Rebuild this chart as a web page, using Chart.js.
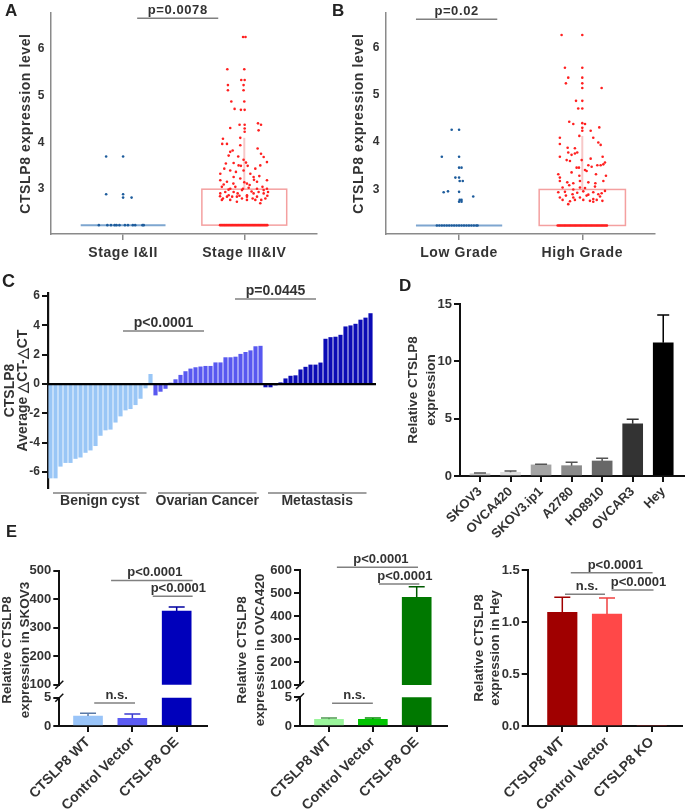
<!DOCTYPE html>
<html><head><meta charset="utf-8">
<script src="https://cdn.jsdelivr.net/npm/chart.js@4/dist/chart.umd.min.js"></script>
<style>
body{margin:0;background:#fff;}
#wrap{position:relative;width:685px;height:811px;overflow:hidden;background:#fff;}
canvas{position:absolute;}
.lbl{position:absolute;font-family:'Liberation Sans',Arial,sans-serif;font-weight:bold;color:#222;line-height:1;}
</style></head><body>
<div id="wrap">
<canvas id="cA" width="340" height="270" style="left:0;top:0"></canvas>
<canvas id="cB" width="345" height="270" style="left:340px;top:0"></canvas>
<canvas id="cC" width="385" height="240" style="left:0;top:270px"></canvas>
<canvas id="cD" width="300" height="280" style="left:385px;top:270px"></canvas>
<canvas id="cE1t" width="230" height="281" style="left:0;top:530px"></canvas>
<canvas id="cE1b" width="230" height="281" style="left:0;top:530px"></canvas>
<canvas id="cE2t" width="230" height="281" style="left:230px;top:530px"></canvas>
<canvas id="cE2b" width="230" height="281" style="left:230px;top:530px"></canvas>
<canvas id="cE3" width="225" height="281" style="left:460px;top:530px"></canvas>
<div class="lbl" style="left:5px;top:2px;font-size:17px">A</div>
<div class="lbl" style="left:332px;top:2px;font-size:17px">B</div>
<div class="lbl" style="left:2px;top:272px;font-size:18px">C</div>
<div class="lbl" style="left:399px;top:277px;font-size:17px">D</div>
<div class="lbl" style="left:6px;top:523px;font-size:16.5px">E</div>
</div>
<script>
// ---------------- DATA ----------------
// Panel A: CTSLP8 expression by stage ([x jitter in category units, value])
const stageCats = ['Stage I&II', 'Stage III&IV'];
const stageEarly = [[-0.14,3.70],[0,3.70],[-0.14,2.89],[0,2.89],[0,2.82],[0.07,2.82],
  [-0.20,2.23],[-0.13,2.23],[-0.10,2.23],[-0.07,2.23],[-0.055,2.23],[-0.03,2.23],[0.015,2.23],[0.04,2.23],[0.08,2.23],[0.10,2.23],[0.16,2.23],[0.17,2.23]];
const stageLate = [[-0.01,6.26],[0.01,6.26],[-0.14,5.57],[0,5.57],[-0.135,5.23],[-0.135,5.12],[-0.006,5.23],[-0.006,5.12],
  [-0.025,5.34],[0.003,5.34],[-0.107,4.88],[0,4.88],[-0.08,4.72],[-0.028,4.70],[0.003,4.70],
  [-0.116,4.31],[-0.039,4.38],[0.003,4.38],[0.003,4.30],[0.003,4.23],[0.113,4.41],[0.138,4.38],[0.118,4.26],
  [-0.176,4.08],[-0.033,4.10],[-0.182,3.97],[-0.143,3.97],[-0.033,3.94],[-0.116,3.80],
  [0.11,3.87],[0.138,3.76],[0.16,3.69],[0.187,3.58],
  [-0.129,3.72],[-0.096,3.83],[-0.05,3.70],[-0.006,3.63],[0.014,3.57],
  [-0.152,3.55],[-0.088,3.56],[-0.047,3.51],[-0.028,3.50],[0.028,3.50],[0.091,3.44],[0.132,3.51],
  [-0.198,3.33],[-0.165,3.44],[-0.116,3.40],[-0.069,3.37],[-0.006,3.40],[0.05,3.33],[0.077,3.26],[0.124,3.28],[0.187,3.19],
  [-0.198,3.19],[-0.143,3.16],[-0.088,3.26],[-0.033,3.23],[0.022,3.12],[0.044,3.09],[0.105,3.16],
  [-0.185,3.05],[-0.116,3.01],[-0.074,3.05],[-0.011,3.01],[0.036,3.03],[0.105,3.01],[0.16,2.98],[0.187,3.01],
  [-0.198,2.91],[-0.157,2.94],[-0.129,2.87],[-0.088,2.94],[-0.055,2.91],[-0.019,2.98],[0.022,2.87],[0.077,2.91],[0.118,2.94],[0.16,2.91],[0.196,2.94],
  [-0.176,2.80],[-0.143,2.84],[-0.10,2.84],[-0.061,2.84],[-0.019,2.80],[0.022,2.84],[0.069,2.80],[0.105,2.84],[0.14,2.77],[0.174,2.80],
  [-0.185,2.77],[-0.116,2.77],[-0.061,2.73],[0.022,2.77],[0.091,2.77],[0.132,2.70],
  [-0.17,3.10],[0.06,2.95],[-0.04,2.86],[0.15,3.05],[-0.13,2.99],[0.08,3.20],[-0.09,3.12],[0.0,3.15],[0.19,2.86],[-0.20,2.85],
  [-0.20,2.23],[-0.18,2.23],[-0.16,2.23],[-0.14,2.23],[-0.12,2.23],[-0.10,2.23],[-0.08,2.23],[-0.06,2.23],[-0.04,2.23],[-0.02,2.23],
  [0,2.23],[0.02,2.23],[0.04,2.23],[0.06,2.23],[0.08,2.23],[0.10,2.23],[0.12,2.23],[0.14,2.23],[0.16,2.23],[0.18,2.23],
  [-0.19,2.23],[-0.17,2.23],[-0.15,2.23],[-0.13,2.23],[-0.11,2.23],[-0.09,2.23],[-0.07,2.23],[-0.05,2.23],[-0.03,2.23],[-0.01,2.23],
  [0.01,2.23],[0.03,2.23],[0.05,2.23],[0.07,2.23],[0.09,2.23],[0.11,2.23],[0.13,2.23],[0.15,2.23],[0.17,2.23],[0.19,2.23]];
const stageQ1 = [2.23, 2.23];
const stageQ3 = [2.23, 3.00];
const stageWhiskerHi = [2.23, 4.10];

// Panel B: by grade
const gradeCats = ['Low Grade', 'High Grade'];
const gradeLow = [[-0.14,3.69],[0,3.69],[-0.06,4.26],[0,4.26],[0,3.46],[0.02,3.46],[-0.03,3.25],[0,3.25],[0.005,3.18],[0.03,3.18],
  [-0.125,2.94],[-0.09,2.96],[0,2.95],[0.115,2.85],[0.005,2.78],[0.02,2.78],[0,2.74],[0.02,2.74],
  [-0.18,2.24],[-0.16,2.24],[-0.14,2.24],[-0.12,2.24],[-0.10,2.24],[-0.08,2.24],[-0.06,2.24],[-0.04,2.24],[-0.02,2.24],
  [0,2.24],[0.02,2.24],[0.04,2.24],[0.06,2.24],[0.08,2.24],[0.10,2.24],[0.12,2.24],[0.14,2.24],[0.15,2.24]];
const gradeHigh = [[-0.168,6.26],[0,6.26],[-0.141,5.57],[0,5.57],[-0.114,5.36],[-0.133,5.24],[0,5.36],[0,5.24],[0,5.14],[0.157,5.14],
  [-0.051,4.87],[0,4.87],[-0.033,4.71],[0,4.71],[-0.106,4.43],[-0.073,4.38],[0,4.40],[0.022,4.38],[0,4.30],[0,4.24],[0.068,4.24],[0.138,4.31],
  [-0.024,4.13],[-0.182,4.09],[0.089,4.09],[-0.182,3.96],[0.13,3.99],[0.149,3.94],[-0.119,3.88],[-0.06,3.87],
  [-0.114,3.78],[-0.087,3.73],[-0.06,3.76],[-0.041,3.78],[-0.182,3.69],[0.165,3.69],[-0.127,3.62],[-0.10,3.60],[0.068,3.65],
  [0.184,3.57],[0.171,3.53],[0.122,3.51],[0.149,3.51],[-0.046,3.46],[-0.027,3.46],[0.022,3.41],[0.049,3.51],[0.076,3.48],[-0.005,3.62],
  [-0.195,3.32],[-0.182,3.25],[-0.087,3.36],[-0.024,3.29],[0.035,3.39],[0.111,3.32],[0.192,3.29],
  [-0.182,3.18],[-0.122,3.15],[-0.073,3.13],[-0.019,3.18],[0.049,3.15],[0.106,3.13],[0.171,3.18],
  [-0.16,3.04],[-0.106,3.09],[-0.073,3.00],[-0.019,3.04],[0.022,3.03],[0.103,3.06],[0.184,2.97],
  [-0.195,2.94],[-0.141,2.95],[-0.079,2.90],[-0.041,2.93],[0.008,2.96],[0.049,2.89],[0.089,2.94],[0.13,2.90],[0.157,2.92],
  [-0.182,2.83],[-0.133,2.87],[-0.073,2.83],[-0.019,2.83],[0.035,2.87],[0.089,2.80],[0.144,2.85],
  [-0.16,2.78],[-0.10,2.75],[-0.06,2.78],[0.008,2.78],[0.062,2.76],[0.117,2.78],[0.163,2.76],[-0.114,2.69],[0.089,2.74],
  [-0.20,2.24],[-0.18,2.24],[-0.16,2.24],[-0.14,2.24],[-0.12,2.24],[-0.10,2.24],[-0.08,2.24],[-0.06,2.24],[-0.04,2.24],[-0.02,2.24],
  [0,2.24],[0.02,2.24],[0.04,2.24],[0.06,2.24],[0.08,2.24],[0.10,2.24],[0.12,2.24],[0.14,2.24],[0.16,2.24],[0.18,2.24],[0.20,2.24],
  [-0.19,2.24],[-0.17,2.24],[-0.15,2.24],[-0.13,2.24],[-0.11,2.24],[-0.09,2.24],[-0.07,2.24],[-0.05,2.24],[-0.03,2.24],[-0.01,2.24],
  [0.01,2.24],[0.03,2.24],[0.05,2.24],[0.07,2.24],[0.09,2.24],[0.11,2.24],[0.13,2.24],[0.15,2.24],[0.17,2.24],[0.19,2.24]];
const gradeQ1 = [2.24, 2.24];
const gradeQ3 = [2.24, 3.00];
const gradeWhiskerHi = [2.24, 4.13];

// Panel C: Average dCT-dCT per sample
const benignCyst = [-6.4,-6.4,-5.6,-5.35,-5.35,-5.07,-4.98,-4.66,-4.5,-4.2,-3.5,-3.13,-3.08,-2.6,-2.18,-1.77,-1.68,-1.41,-0.98,-0.27,0.66];
const ovarianCancer = [-0.75,-0.5,-0.3,0.05,0.3,0.6,0.85,1.03,1.12,1.17,1.21,1.21,1.45,1.45,1.8,1.8,1.84,2.03,2.16,2.27,2.55,2.58];
const metastasis = [-0.2,-0.2,-0.06,0.09,0.36,0.54,0.57,0.97,1.15,1.3,1.3,1.44,3.06,3.17,3.2,3.33,3.9,3.97,4.08,4.36,4.5,4.8];
const cGroups = ['Benign cyst', 'Ovarian Cancer', 'Metastasis'];

// Panel D: cell lines
const cellLines = ['SKOV3','OVCA420','SKOV3.ip1','A2780','HO8910','OVCAR3','Hey'];
const cellExpr = [0.2, 0.32, 0.97, 0.9, 1.31, 4.55, 11.62];
const cellErr = [0.06, 0.11, 0.05, 0.29, 0.23, 0.39, 2.42];

// Panel E
const eGroupsOE = ['CTSLP8 WT','Control Vector','CTSLP8 OE'];
const eGroupsKO = ['CTSLP8 WT','Control Vector','CTSLP8 KO'];
const skov3Expr = [1.77, 1.36, 358.5];
const skov3Err = [0.47, 0.76, 14];
const ovca420Expr = [1.17, 1.17, 481];
const ovca420Err = [0.22, 0.22, 46];
const heyExpr = [1.093, 1.077, 0];
const heyErr = [0.145, 0.154, 0];

// ---------------- HELPERS ----------------
const FONT = "'Liberation Sans', Arial, Helvetica, sans-serif";
const TXT = '#333';
const AX = '#111';
const fixW = w => s => { s.width = w; };
const fixH = h => s => { s.height = h; };
const setTicks = vals => s => { s.ticks = vals.map(v => ({value: v})); };
const bold = (size, extra) => Object.assign({family: FONT, size: size, weight: 'bold'}, extra || {});

const spacingPlugin = {
  id: 'spacing',
  beforeDraw(chart, args, o) { if (o && o.px) chart.ctx.letterSpacing = o.px + 'px'; }
};

const pvalPlugin = {
  id: 'pvals',
  afterDraw(chart, args, o) {
    if (!o || !o.items) return;
    const ctx = chart.ctx, xs = chart.scales.x, ys = chart.scales.y;
    ctx.save();
    ctx.font = 'bold ' + (o.size || 13) + 'px ' + FONT;
    ctx.textAlign = 'center'; ctx.textBaseline = 'alphabetic';
    for (const it of o.items) {
      const x1 = xs.getPixelForValue(it.x1), x2 = xs.getPixelForValue(it.x2), y = ys.getPixelForValue(it.y);
      ctx.strokeStyle = o.lineColor || '#808080'; ctx.lineWidth = o.lineWidth || 1.5;
      ctx.beginPath(); ctx.moveTo(x1, y); ctx.lineTo(x2, y); ctx.stroke();
      ctx.fillStyle = TXT;
      ctx.fillText(it.text, (x1 + x2) / 2 + (it.dx || 0), y - (o.gap || 4));
    }
    ctx.restore();
  }
};

const errPlugin = {
  id: 'errbars',
  afterDatasetsDraw(chart, args, o) {
    if (!o || !o.err) return;
    const meta = chart.getDatasetMeta(0), ys = chart.scales.y, ctx = chart.ctx, ds = chart.data.datasets[0];
    ctx.save();
    meta.data.forEach((bar, i) => {
      const v = ds.data[i].y, e = o.err[i];
      if (!e) return;
      const top = v + e;
      if (top > ys.max || top < ys.min) return;
      const yv = ys.getPixelForValue(Math.max(v, ys.min)), yt = ys.getPixelForValue(top);
      ctx.strokeStyle = o.colors[i]; ctx.lineWidth = o.width || 1.5;
      ctx.beginPath();
      ctx.moveTo(bar.x, yv); ctx.lineTo(bar.x, yt);
      ctx.moveTo(bar.x - o.cap / 2, yt); ctx.lineTo(bar.x + o.cap / 2, yt);
      ctx.stroke();
    });
    ctx.restore();
  }
};

const boxPlugin = {
  id: 'boxes',
  beforeDatasetsDraw(chart, args, o) {
    if (!o || !o.q1) return;
    const xs = chart.scales.x, ys = chart.scales.y, ctx = chart.ctx;
    ctx.save();
    o.q1.forEach((q1, i) => {
      const cx = i + 1;
      const xl = xs.getPixelForValue(cx - o.half), xr = xs.getPixelForValue(cx + o.half);
      const y1 = ys.getPixelForValue(q1), y3 = ys.getPixelForValue(o.q3[i]), yh = ys.getPixelForValue(o.hi[i]);
      const xc = xs.getPixelForValue(cx);
      if (o.hi[i] > o.q3[i]) {
        ctx.strokeStyle = o.whisker[i]; ctx.lineWidth = 2;
        ctx.beginPath(); ctx.moveTo(xc, y3); ctx.lineTo(xc, yh); ctx.stroke();
      }
      ctx.strokeStyle = o.stroke[i]; ctx.lineWidth = o.lw[i];
      ctx.strokeRect(xl, y3, xr - xl, y1 - y3);
    });
    ctx.restore();
  }
};

const vtitlePlugin = {
  id: 'vtitle',
  afterDraw(chart, args, o) {
    if (!o || !o.lines) return;
    const ctx = chart.ctx;
    ctx.save();
    ctx.font = 'bold ' + o.size + 'px ' + FONT;
    ctx.fillStyle = TXT; ctx.textAlign = 'center'; ctx.textBaseline = 'middle';
    o.lines.forEach((t, i) => {
      ctx.save(); ctx.translate(o.x[i], o.y); ctx.rotate(-Math.PI / 2); ctx.fillText(t, 0, 0); ctx.restore();
    });
    ctx.restore();
  }
};

const breakPlugin = {
  id: 'brk',
  afterDraw(chart, args, o) {
    if (!o || !o.ys) return;
    const ctx = chart.ctx, x = chart.chartArea.left;
    ctx.save(); ctx.strokeStyle = AX; ctx.lineWidth = 1.5;
    o.ys.forEach(y => { ctx.beginPath(); ctx.moveTo(x - 4, y + 4); ctx.lineTo(x + 4, y - 4); ctx.stroke(); });
    ctx.restore();
  }
};

const zeroLinePlugin = {
  id: 'zeroline',
  afterDatasetsDraw(chart) {
    const ctx = chart.ctx, ys = chart.scales.y, a = chart.chartArea;
    const y = ys.getPixelForValue(0);
    ctx.save(); ctx.strokeStyle = '#000'; ctx.lineWidth = 2.2;
    ctx.beginPath(); ctx.moveTo(a.left, y); ctx.lineTo(a.right, y); ctx.stroke(); ctx.restore();
  }
};

const groupPlugin = {
  id: 'groups',
  afterDraw(chart, args, o) {
    if (!o || !o.groups) return;
    const ctx = chart.ctx, xs = chart.scales.x, a = chart.chartArea;
    ctx.save();
    ctx.font = 'bold 14px ' + FONT; ctx.textAlign = 'center'; ctx.textBaseline = 'middle';
    for (const g of o.groups) {
      const x1 = xs.getPixelForValue(g.from) + 2.5, x2 = xs.getPixelForValue(g.to) - 4;
      ctx.strokeStyle = '#808080'; ctx.lineWidth = 1.5;
      ctx.beginPath(); ctx.moveTo(x1, a.bottom + 5); ctx.lineTo(x2, a.bottom + 5); ctx.stroke();
      ctx.fillStyle = TXT;
      ctx.fillText(g.text, (x1 + x2) / 2, a.bottom + 13);
    }
    ctx.restore();
  }
};

const base = {responsive: false, animation: false, devicePixelRatio: 1, events: []};

// ---------------- PANELS A & B ----------------
function scatterPanel(id, cats, g1, g2, q1, q3, hi, cfg) {
  return new Chart(document.getElementById(id), {
    type: 'scatter',
    data: {datasets: [
      {data: g1.map(p => ({x: 1 + p[0], y: p[1]})), backgroundColor: '#1d5c9c', pointRadius: 1.3, borderWidth: 0},
      {data: g2.map(p => ({x: 2 + p[0], y: p[1]})), backgroundColor: '#ff2020', pointRadius: 1.3, borderWidth: 0}
    ]},
    options: Object.assign({}, base, {
      layout: {autoPadding: false, padding: cfg.pad},
      plugins: {legend: {display: false}, tooltip: {enabled: false}, spacing: {px: 0.6},
        boxes: {q1: q1, q3: q3, hi: hi, half: 0.35, stroke: ['#7ea6d0', '#f4a0a0'], lw: [2, 1.5], whisker: ['#f7c8c8', '#f7c8c8']},
        pvals: {items: cfg.pvals, size: 13}},
      scales: {
        x: {type: 'linear', min: cfg.xmin, max: cfg.xmax, afterBuildTicks: setTicks([1, 2]), afterFit: fixH(36),
          ticks: {callback: v => cats[v - 1], font: bold(14), color: TXT, padding: 5, maxRotation: 0, autoSkip: false},
          grid: {drawOnChartArea: false, drawTicks: true, tickLength: 6, color: '#8a8a8a', lineWidth: 1.5},
          border: {display: true, color: '#8a8a8a', width: 1.5}},
        y: {min: cfg.ymin, max: cfg.ymax, afterBuildTicks: setTicks([3, 4, 5, 6]), afterFit: fixW(cfg.yw),
          ticks: {font: bold(12), color: TXT, padding: 6},
          grid: {display: false, drawTicks: false},
          border: {display: true, color: '#8a8a8a', width: 1.5},
          title: {display: true, text: 'CTSLP8 expression level', font: bold(14), color: TXT, padding: {top: cfg.tpad, bottom: 0}}}
      }
    }),
    plugins: [spacingPlugin, boxPlugin, pvalPlugin]
  });
}
scatterPanel('cA', stageCats, stageEarly, stageLate, stageQ1, stageQ3, stageWhiskerHi,
  {pad: {left: 0, top: 12, right: 23, bottom: 0}, yw: 51, tpad: 17.6, xmin: 0.405, xmax: 2.60, ymin: 2.04, ymax: 6.77,
   pvals: [{x1: 1.116, x2: 1.785, y: 6.66, text: 'p=0.0078'}]});
scatterPanel('cB', gradeCats, gradeLow, gradeHigh, gradeQ1, gradeQ3, gradeWhiskerHi,
  {pad: {left: 0, top: 12, right: 30, bottom: 0}, yw: 46, tpad: 10.6, xmin: 0.407, xmax: 2.59, ymin: 2.06, ymax: 6.72,
   pvals: [{x1: 0.65, x2: 1.31, y: 6.59, text: 'p=0.02'}]});

// ---------------- PANEL C ----------------
(function () {
  const all = benignCyst.concat(ovarianCancer, metastasis);
  const colors = benignCyst.map(() => '#99c6f6').concat(ovarianCancer.map(() => '#5858f0'), metastasis.map(() => '#0b0bb5'));
  const n1 = benignCyst.length, n2 = ovarianCancer.length, n3 = metastasis.length;
  new Chart(document.getElementById('cC'), {
    type: 'bar',
    data: {datasets: [{data: all.map((v, i) => ({x: i, y: v})), backgroundColor: colors, borderWidth: 0, barThickness: 3.5, clip: 0}]},
    options: Object.assign({}, base, {
      layout: {autoPadding: false, padding: {left: 0, top: 23, right: 9, bottom: 22}},
      plugins: {legend: {display: false}, tooltip: {enabled: false},
        pvals: {items: [{x1: 14.5, x2: 30.7, y: 3.61, text: 'p<0.0001'}, {x1: 36.9, x2: 53.1, y: 5.79, text: 'p=0.0445'}], size: 14},
        groups: {groups: [{text: cGroups[0], from: 0, to: n1 - 1}, {text: cGroups[1], from: n1, to: n1 + n2 - 1}, {text: cGroups[2], from: n1 + n2, to: n1 + n2 + n3 - 1}]}},
      scales: {
        x: {type: 'linear', offset: false, min: -0.5, max: 65.1, display: false, grid: {offset: false}},
        y: {min: -7.08, max: 6.2, afterBuildTicks: setTicks([-6, -4, -2, 0, 2, 4, 6]), afterFit: fixW(48),
          ticks: {font: bold(12), color: TXT, padding: 2},
          grid: {drawOnChartArea: false, drawTicks: true, tickLength: 6, color: AX, lineWidth: 2},
          border: {display: true, color: AX, width: 2.2},
          title: {display: true, text: ['CTSLP8', 'Average \u25B3CT-\u25B3CT'], font: bold(14, {lineHeight: 0.93}), color: TXT, padding: {top: 3.5, bottom: 0}}}
      }
    }),
    plugins: [zeroLinePlugin, pvalPlugin, groupPlugin]
  });
})();

// ---------------- BAR FACTORY (D, E) ----------------
function mkBar(id, c) {
  const plugins = [errPlugin, pvalPlugin].concat(c.extra || []);
  const pl = {legend: {display: false}, tooltip: {enabled: false},
    errbars: {err: c.errors, colors: c.errColors, cap: c.cap},
    pvals: {items: c.pvals || [], size: 13}};
  Object.assign(pl, c.popts || {});
  const yScale = {min: c.ymin, max: c.ymax, afterBuildTicks: setTicks(c.yticks), afterFit: fixW(c.yw),
    ticks: {callback: c.tickFmt || (v => v), font: bold(13), color: TXT, padding: 2},
    grid: {drawOnChartArea: false, drawTicks: true, tickLength: 6, color: AX, lineWidth: 2},
    border: {display: true, color: AX, width: 2}};
  if (c.ytitle) yScale.title = c.ytitle;
  return new Chart(document.getElementById(id), {
    type: 'bar',
    data: {datasets: [{data: c.values.map((v, i) => ({x: i, y: v})), backgroundColor: c.colors, borderWidth: 0, barThickness: c.thick, clip: 0}]},
    options: Object.assign({}, base, {
      layout: {autoPadding: false, padding: c.pad},
      plugins: pl,
      scales: {
        x: {type: 'linear', offset: false, min: c.xmin, max: c.xmax, display: !!c.xh,
          afterBuildTicks: setTicks(c.labels.map((_, i) => i)), afterFit: fixH(c.xh || 0),
          ticks: {callback: v => c.labels[v], font: bold(c.xfont || 13), color: TXT, minRotation: 45, maxRotation: 45, padding: 2, autoSkip: false},
          grid: {offset: false, drawOnChartArea: false, drawTicks: true, tickLength: 6, color: AX, lineWidth: 2},
          border: {display: true, color: AX, width: 2}},
        y: yScale
      }
    }),
    plugins: plugins
  });
}

// ---------------- PANEL D ----------------
mkBar('cD', {labels: cellLines, values: cellExpr, errors: cellErr,
  colors: ['#c8c8c8', '#dedede', '#a4a4a4', '#8a8a8a', '#686868', '#333333', '#000000'],
  errColors: ['#555', '#555', '#555', '#555', '#555', '#333', '#000'], cap: 12, thick: 20,
  xmin: -0.654, xmax: 6.68, ymin: 0, ymax: 15, yticks: [0, 5, 10, 15], yw: 75, xh: 74, xfont: 13,
  pad: {left: 0, top: 34, right: 1, bottom: 0},
  ytitle: {display: true, text: ['Relative CTSLP8', 'expression'], font: bold(13.5, {lineHeight: 1.33}), color: TXT, padding: {top: 19.3, bottom: 0}}});

// ---------------- PANEL E ----------------
const e1Colors = ['#99c4f8', '#5b5bf3', '#0000bb'], e1Err = ['#5a7aa8', '#3a3ad0', '#0000a0'];
mkBar('cE1t', {labels: eGroupsOE, values: skov3Expr, errors: skov3Err, colors: e1Colors, errColors: e1Err, cap: 16, thick: 29,
  xmin: -0.648, xmax: 2.684, ymin: 100, ymax: 500, yticks: [100, 200, 300, 400, 500], yw: 59.3, xh: 0,
  pad: {left: 0, top: 40.7, right: 23, bottom: 126.3},
  pvals: [{x1: 0.52, x2: 2.36, y: 466, text: 'p<0.0001', dx: 3}, {x1: 1.46, x2: 2.36, y: 410, text: 'p<0.0001', dx: 5.6}]});
mkBar('cE1b', {labels: eGroupsOE, values: skov3Expr, errors: skov3Err, colors: e1Colors, errColors: e1Err, cap: 16, thick: 29,
  xmin: -0.648, xmax: 2.684, ymin: 0, ymax: 5, yticks: [0, 5], yw: 59.3, xh: 85, xfont: 14,
  pad: {left: 0, top: 167.7, right: 23, bottom: 0},
  pvals: [{x1: 0.14, x2: 1.06, y: 4.06, text: 'n.s.', dx: 2}],
  extra: [vtitlePlugin, breakPlugin],
  popts: {vtitle: {lines: ['Relative CTSLP8', 'expression in SKOV3'], x: [7, 25], y: 120, size: 13.5}, brk: {ys: [154.7, 167.7]}}});

const e2Colors = ['#9af59b', '#00c400', '#007800'], e2Err = ['#4f9a50', '#009000', '#005a00'];
mkBar('cE2t', {labels: eGroupsOE, values: ovca420Expr, errors: ovca420Err, colors: e2Colors, errColors: e2Err, cap: 16, thick: 29,
  xmin: -0.661, xmax: 2.684, ymin: 100, ymax: 600, yticks: [100, 200, 300, 400, 500, 600], yw: 70, xh: 0,
  pad: {left: 0, top: 40, right: 13.3, bottom: 126},
  pvals: [{x1: 0.18, x2: 2.03, y: 611.7, text: 'p<0.0001', dx: 3.5}, {x1: 1.14, x2: 2.06, y: 539, text: 'p<0.0001', dx: 5.7}]});
mkBar('cE2b', {labels: eGroupsOE, values: ovca420Expr, errors: ovca420Err, colors: e2Colors, errColors: e2Err, cap: 16, thick: 29,
  xmin: -0.661, xmax: 2.684, ymin: 0, ymax: 5, yticks: [0, 5], yw: 70, xh: 85, xfont: 14,
  pad: {left: 0, top: 167.3, right: 13.3, bottom: 0},
  pvals: [{x1: 0.07, x2: 1.0, y: 3.95, text: 'n.s.', dx: 2}],
  extra: [vtitlePlugin, breakPlugin],
  popts: {vtitle: {lines: ['Relative CTSLP8', 'expression in OVCA420'], x: [12.5, 30], y: 120, size: 13.5}, brk: {ys: [155, 167.3]}}});

mkBar('cE3', {labels: eGroupsKO, values: heyExpr, errors: heyErr, colors: ['#a00000', '#ff4848', '#ff4848'], errColors: ['#a00000', '#f04040', '#f04040'], cap: 16, thick: 29.5,
  xmin: -0.774, xmax: 2.671, ymin: 0, ymax: 1.5, yticks: [0, 0.5, 1, 1.5], yw: 67.7, xh: 85, xfont: 14,
  tickFmt: v => v.toFixed(1),
  pad: {left: 0, top: 40, right: 3.3, bottom: 0},
  pvals: [{x1: 0.19, x2: 2.02, y: 1.474, text: 'p<0.0001', dx: 3.6}, {x1: 1.1, x2: 2.04, y: 1.308, text: 'p<0.0001', dx: 6}, {x1: 0.06, x2: 0.955, y: 1.266, text: 'n.s.', dx: 2}],
  extra: [vtitlePlugin],
  popts: {vtitle: {lines: ['Relative CTSLP8', 'expression in Hey'], x: [19, 35.7], y: 118, size: 13.5}}});
</script>
</body></html>
